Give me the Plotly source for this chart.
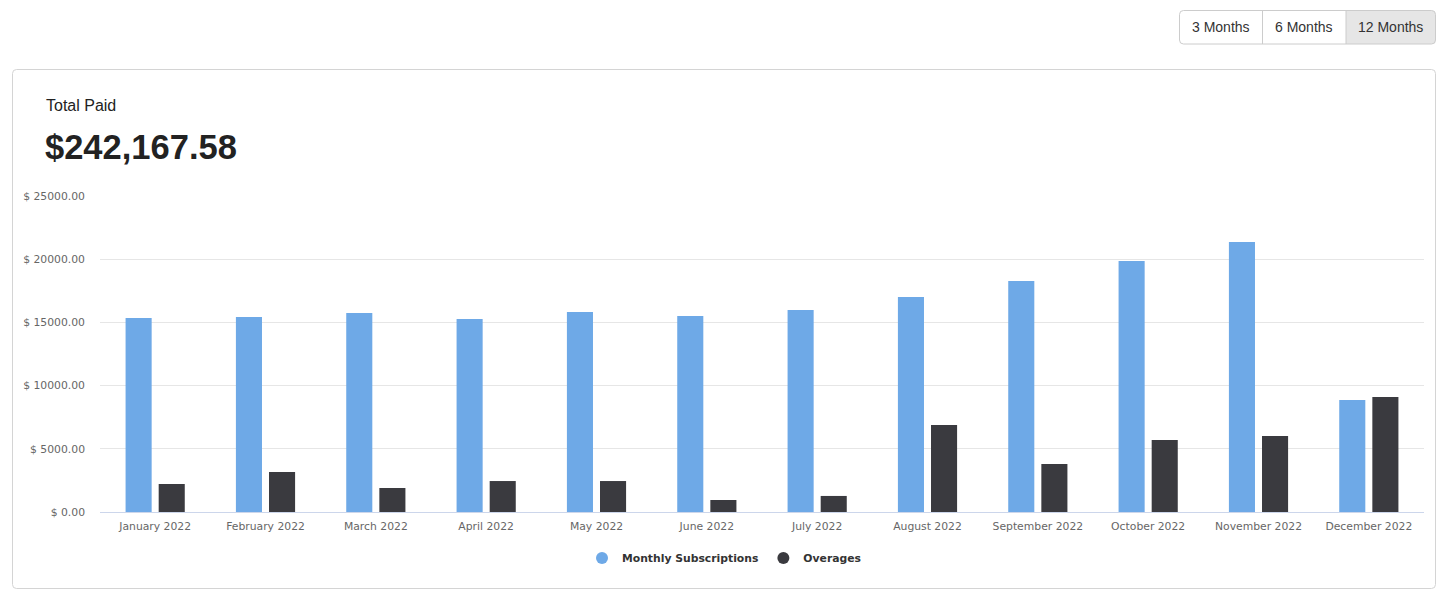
import plotly.graph_objects as go

months = ["January 2022", "February 2022", "March 2022", "April 2022", "May 2022",
          "June 2022", "July 2022", "August 2022", "September 2022", "October 2022",
          "November 2022", "December 2022"]
subscriptions = [15350, 15430, 15740, 15270, 15820, 15500, 15980, 17010, 18270, 19860, 21360, 8860]
overages = [2215, 3165, 1900, 2450, 2450, 950, 1270, 6880, 3800, 5700, 6010, 9100]
y_ticks = [0, 5000, 10000, 15000, 20000, 25000]
y_tick_text = ["$ %.2f" % v for v in y_ticks]
total_label = "$242,167.58"
range_buttons = ["3 Months", "6 Months", "12 Months"]

BLUE = "#6ea9e7"
DARK = "#3a3a3f"

# the page body has an 8px margin; work in screen pixels and convert
OX, OY = 8, 8
W, H = 1430, 586
L, R, T, B = 92, 14, 188, 82
PW, PH = W - L - R, H - T - B


def px(x):
    return (x - OX - L) / PW


def py(y):
    return (H - B - (y - OY)) / PH


def rounded_rect(x0, y0, x1, y1, r):
    pts = [
        f"M{px(x0 + r)},{py(y0)}",
        f"L{px(x1 - r)},{py(y0)}",
        f"Q{px(x1)},{py(y0)} {px(x1)},{py(y0 + r)}",
        f"L{px(x1)},{py(y1 - r)}",
        f"Q{px(x1)},{py(y1)} {px(x1 - r)},{py(y1)}",
        f"L{px(x0 + r)},{py(y1)}",
        f"Q{px(x0)},{py(y1)} {px(x0)},{py(y1 - r)}",
        f"L{px(x0)},{py(y0 + r)}",
        f"Q{px(x0)},{py(y0)} {px(x0 + r)},{py(y0)}",
        "Z",
    ]
    return " ".join(pts)


fig = go.Figure()
fig.add_trace(go.Bar(x=months, y=subscriptions, name="Monthly Subscriptions",
                     marker=dict(color=BLUE, line=dict(width=0)), showlegend=False))
fig.add_trace(go.Bar(x=months, y=overages, name="Overages",
                     marker=dict(color=DARK, line=dict(width=0)), showlegend=False))
# legend entries with circular symbols
for name, col in [("Monthly Subscriptions", BLUE), ("Overages", DARK)]:
    fig.add_trace(go.Scatter(x=[None], y=[None], mode="markers", name=name,
                             marker=dict(color=col, size=11, symbol="circle")))

shapes = []
# card
shapes.append(dict(type="path", xref="paper", yref="paper",
                   path=rounded_rect(12.5, 69.5, 1435.5, 588.5, 4),
                   line=dict(color="#d4d4d4", width=1), fillcolor="rgba(0,0,0,0)", layer="below"))
# active button background
shapes.append(dict(type="path", xref="paper", yref="paper",
                   path="M%f,%f L%f,%f Q%f,%f %f,%f L%f,%f Q%f,%f %f,%f L%f,%f Z" % (
                       px(1346), py(10.5), px(1432), py(10.5), px(1435.5), py(10.5), px(1435.5), py(14),
                       px(1435.5), py(40.5), px(1435.5), py(44), px(1432), py(44), px(1346), py(44)),
                   line=dict(width=0), fillcolor="#e6e6e6", layer="above"))
shapes.append(dict(type="path", xref="paper", yref="paper",
                   path=rounded_rect(1179.5, 10.5, 1435.5, 44, 4),
                   line=dict(color="#cccccc", width=1), fillcolor="rgba(0,0,0,0)", layer="above"))
for xd in [1262.5, 1346]:
    shapes.append(dict(type="line", xref="paper", yref="paper",
                       x0=px(xd), x1=px(xd), y0=py(10.5), y1=py(44),
                       line=dict(color="#cccccc", width=1)))

annotations = [
    dict(text="Total Paid", x=px(44), y=py(105), xref="paper", yref="paper",
         xanchor="left", yanchor="middle", showarrow=False,
         font=dict(family="Liberation Sans, Arial, sans-serif", size=16, color="#222222")),
    dict(text="<b>%s</b>" % total_label, x=px(43), y=py(147), xref="paper", yref="paper",
         xanchor="left", yanchor="middle", showarrow=False,
         font=dict(family="Liberation Sans, Arial, sans-serif", size=34.5, color="#222222")),
]
for label, cx in zip(range_buttons, [1221, 1304, 1390]):
    annotations.append(dict(text=label, x=px(cx), y=py(27), xref="paper", yref="paper",
                            xanchor="center", yanchor="middle", showarrow=False,
                            font=dict(family="Liberation Sans, Arial, sans-serif", size=14, color="#333333")))

fig.update_layout(
    width=W, height=H,
    margin=dict(l=L, r=R, t=T, b=B, autoexpand=False),
    paper_bgcolor="white", plot_bgcolor="white",
    barmode="group", bargap=0.40, bargroupgap=0.212,
    font=dict(family="DejaVu Sans, sans-serif", color="#666666"),
    shapes=shapes, annotations=annotations,
    legend=dict(orientation="h", x=px(724), xanchor="center", y=py(558), yanchor="middle",
                font=dict(family="DejaVu Sans, sans-serif", size=10.8, color="#333333", weight="bold"),
                itemsizing="constant", bgcolor="rgba(0,0,0,0)"),
    showlegend=True,
)
fig.update_xaxes(showline=True, linecolor="#ccd6eb", linewidth=1, showgrid=False,
                 ticks="", tickfont=dict(size=10.8, color="#666666"), ticklabelstandoff=4,
                 fixedrange=True)
fig.update_yaxes(range=[0, 25000], tickvals=y_ticks, ticktext=y_tick_text,
                 showgrid=True, gridcolor="#e6e6e6", gridwidth=1, zeroline=False,
                 tickfont=dict(size=10.8, color="#666666"), ticklabelstandoff=14,
                 showline=False, fixedrange=True)

fig.write_html("out.html")
